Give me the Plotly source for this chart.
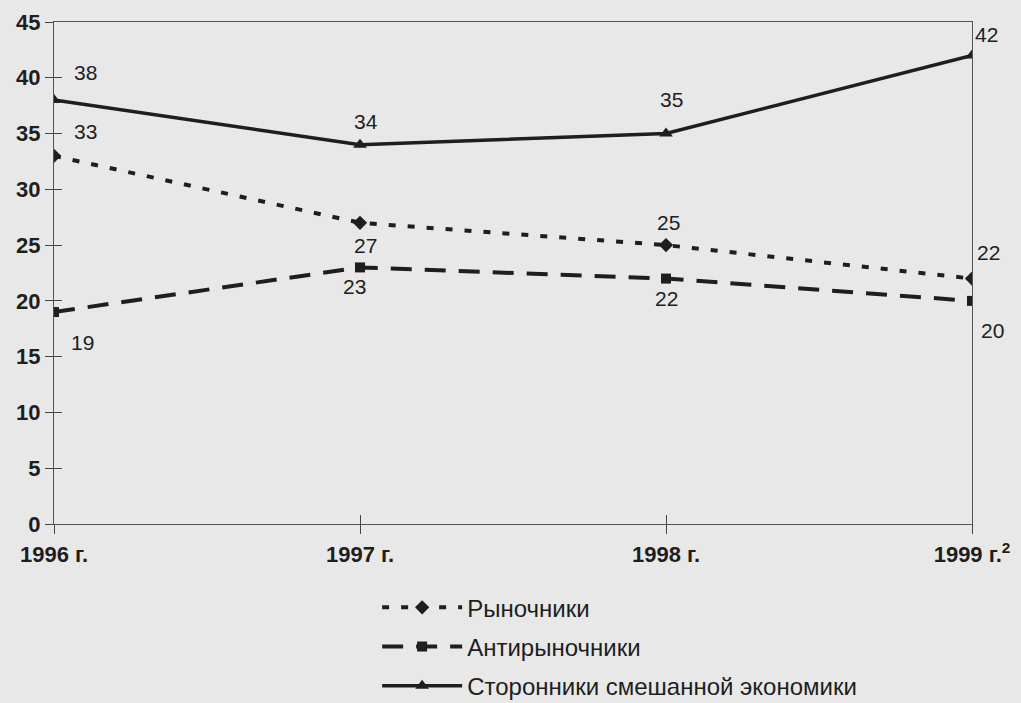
import plotly.graph_objects as go

years = ["1996 г.", "1997 г.", "1998 г.", "1999 г.<sup>2</sup>"]
market = [33, 27, 25, 22]
anti_market = [19, 23, 22, 20]
mixed = [38, 34, 35, 42]
y_ticks = [0, 5, 10, 15, 20, 25, 30, 35, 40, 45]

names = ["Рыночники", "Антирыночники", "Сторонники смешанной экономики"]

# label offsets (px) for the value annotations
off_market = [(31, 24), (5, -23), (2, 23), (16, 26)]
off_anti = [(28, -30), (-6, -19), (0, -20), (20, -30)]
off_mixed = [(31, 28), (6, 23), (5, 34), (14, 21)]

ink = "#1e1e1e"
bg = "#e8e8e8"
font = "Liberation Sans, Arial, sans-serif"

fig = go.Figure()
fig.add_trace(go.Scatter(
    x=years, y=market, name=names[0], mode="lines+markers", legendgroup="a",
    line=dict(color=ink, width=4, dash="7px,12px"),
    marker=dict(symbol="diamond", size=11, color=ink)))
fig.add_trace(go.Scatter(
    x=years, y=anti_market, name=names[1], mode="lines+markers", legendgroup="b",
    line=dict(color=ink, width=4, dash="21px,13px"),
    marker=dict(symbol="square", size=10, color=ink)))
fig.add_trace(go.Scatter(
    x=years, y=mixed, name=names[2], mode="lines+markers", legendgroup="c",
    line=dict(color=ink, width=3.5),
    marker=dict(symbol="triangle-up", size=12, color=ink)))

for series, offs in ((market, off_market), (anti_market, off_anti), (mixed, off_mixed)):
    for xv, yv, (dx, dy) in zip(years, series, offs):
        fig.add_annotation(x=xv, y=yv, text=str(yv), showarrow=False,
                           xshift=dx, yshift=dy,
                           font=dict(family=font, size=21, color=ink))

fig.update_layout(
    width=1021, height=703,
    paper_bgcolor=bg, plot_bgcolor=bg,
    margin=dict(l=54, r=49, t=22, b=179, autoexpand=False),
    font=dict(family=font, color=ink),
    showlegend=True,
    legend=dict(x=0.352, y=-0.122, xanchor="left", yanchor="top",
                bgcolor="rgba(0,0,0,0)", font=dict(size=24, color=ink),
                itemwidth=80, tracegroupgap=5, traceorder="grouped"),
    xaxis=dict(type="category", range=[0, 3], showgrid=False, zeroline=False,
               showline=True, linecolor="#555", linewidth=1, mirror=True,
               ticks="outside", ticklen=9, tickcolor="#444",
               tickfont=dict(family=font, size=22, color=ink, weight="bold"),
               ticklabelstandoff=2),
    yaxis=dict(range=[0, 45], tickvals=y_ticks, showgrid=False, zeroline=False,
               showline=True, linecolor="#555", linewidth=1, mirror=True,
               ticks="outside", ticklen=8, tickcolor="#444",
               tickfont=dict(family=font, size=22, color=ink, weight="bold")),
    xaxis2=dict(overlaying="x", range=[0, 3], tickvals=[1, 2], ticks="inside",
                ticklen=9, tickcolor="#444", showticklabels=False,
                showgrid=False, zeroline=False, showline=False, side="bottom"),
    yaxis2=dict(overlaying="y", range=[0, 45], tickvals=y_ticks, ticks="inside",
                ticklen=8, tickcolor="#444", showticklabels=False,
                showgrid=False, zeroline=False, showline=False, side="left"),
)
# invisible trace to activate the overlay axes
fig.add_trace(go.Scatter(x=[0], y=[0], xaxis="x2", yaxis="y2", mode="markers",
                         marker=dict(opacity=0), showlegend=False, hoverinfo="skip"))

fig.write_html("out.html", config={"displayModeBar": False},
               post_script="document.body.style.margin='0';document.body.style.background='%s';" % bg)
